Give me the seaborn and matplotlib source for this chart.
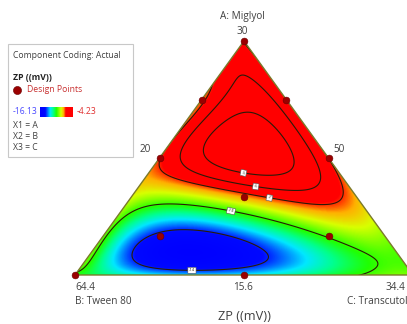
import numpy as np
import matplotlib
matplotlib.use("Agg")
import matplotlib.pyplot as plt
import seaborn as sns
import pandas as pd
from matplotlib.colors import LinearSegmentedColormap, Normalize
from matplotlib.patches import Polygon, Rectangle

# ---------------- data ----------------
# design points (A: Miglyol, B: Tween 80, C: Transcutol), coded fractions
comp_A = [1.0, 0.0, 0.0, 0.5, 0.5, 0.0, 0.75, 0.75, 1/3, 1/6, 1/6]
comp_B = [0.0, 1.0, 0.0, 0.5, 0.0, 0.5, 0.25, 0.0, 1/3, 2/3, 1/6]
comp_C = [0.0, 0.0, 1.0, 0.0, 0.5, 0.5, 0.0, 0.25, 1/3, 1/6, 2/3]
zp_mv = [-7.0, -10.3, -9.3, -7.3, -6.9, -12.6, -7.0, -7.0, -6.95, -15.3, -10.0]

# response readings taken along the drawn contours / colour field
read_A = [0.748, 0.607, 0.500, 0.457, 0.534, 0.650,                 # -5 loop
          0.846, 0.675, 0.534, 0.423, 0.376, 0.406, 0.513, 0.705,   # -6 loop
          0.470, 0.372, 0.338, 0.303, 0.282, 0.295, 0.385,          # -7 line
          0.158, 0.201, 0.261, 0.295, 0.303, 0.295, 0.274, 0.239,
          0.205, 0.098, 0.038, 0.0,                                 # -10 line
          0.094, 0.158, 0.197, 0.209, 0.188, 0.141, 0.090, 0.047,
          0.034, 0.043,                                             # -14 loop
          0.107, 0.598,                                             # min, max
          0.0, 0.0, 0.0, 0.0, 0.0, 0.0, 0.0, 0.0,                   # B-C edge
          0.22, 0.299, 0.385, 0.65, 0.85,                           # A-B edge
          0.107, 0.235, 0.30, 0.363, 0.65, 0.85,                    # A-C edge
          0.940, 0.043, 0.107, 0.085, 0.073, 0.256, 0.107]          # interior
read_B = [0.117, 0.276, 0.315, 0.260, 0.127, 0.074,
          0.068, 0.284, 0.384, 0.404, 0.274, 0.146, 0.048, 0.017,
          0.499, 0.503, 0.432, 0.278, 0.193, 0.098, 0.023,
          0.841, 0.781, 0.707, 0.630, 0.553, 0.468, 0.401, 0.304,
          0.232, 0.123, 0.108, 0.118,
          0.784, 0.714, 0.635, 0.541, 0.433, 0.367, 0.354, 0.444,
          0.569, 0.697,
          0.592, 0.189,
          0.896, 0.837, 0.778, 0.704, 0.630, 0.542, 0.438, 0.364,
          0.78, 0.701, 0.615, 0.35, 0.15,
          0.0, 0.0, 0.0, 0.0, 0.0, 0.0,
          0.030, 0.919, 0.813, 0.292, 0.854, 0.532, 0.281]
read_zp = [-5.0] * 6 + [-6.0] * 8 + [-7.0] * 7 + [-10.0] * 12 + [-14.0] * 10 + \
          [-16.13, -4.4] + \
          [-11.5, -12.2, -12.5, -12.6, -12.7, -12.6, -12.1, -11.3] + \
          [-9.7, -8.7, -7.8, -7.05, -7.0] + \
          [-9.8, -8.6, -8.0, -7.3, -6.95, -7.0] + \
          [-6.5, -10.8, -12.3, -12.5, -12.0, -11.5, -12.3]

zp_range = [-16.13, -4.23]
contour_levels = [-14, -10, -7, -6, -5]
vertex_names = ["A: Miglyol", "B: Tween 80", "C: Transcutol"]
vertex_ticks = ["30", "64.4", "34.4"]
mid_ticks = ["20", "50", "15.6"]
legend_lines = ["Component Coding: Actual", "ZP ((mV))", "Design Points",
                "X1 = A", "X2 = B", "X3 = C"]
title = "ZP ((mV))"

# ---------------- layout ----------------
W, H = 407, 324
TOP = np.array([244.0, 41.0])
BL = np.array([75.0, 275.0])
BR = np.array([413.0, 275.0])

def to_xy(a, b, c):
    a, b, c = np.asarray(a), np.asarray(b), np.asarray(c)
    return (a * TOP[0] + b * BL[0] + c * BR[0],
            a * TOP[1] + b * BL[1] + c * BR[1])

DEG = 6
EXPS = [(i, j, DEG - i - j) for i in range(DEG + 1) for j in range(DEG + 1 - i)]

def terms(a, b, c):
    return np.stack([a**i * b**j * c**k for i, j, k in EXPS], axis=-1)

fa = np.array(comp_A + read_A)
fb = np.array(comp_B + read_B)
fc = 1.0 - fa - fb
fv = np.array(zp_mv + read_zp)
Xd = terms(fa, fb, fc)
lam = 1e-6
coef = np.linalg.solve(Xd.T @ Xd + lam * np.eye(Xd.shape[1]), Xd.T @ fv)

sns.set_style("white")
plt.rcParams['font.family'] = ['Open Sans', 'DejaVu Sans']

fig = plt.figure(figsize=(W/100, H/100), dpi=100)
ax = fig.add_axes([0, 0, 1, 1])

xs = np.linspace(60, 420, 500)
ys = np.linspace(35, 280, 400)
X, Y = np.meshgrid(xs, ys)
A = (BL[1] - Y) / (BL[1] - TOP[1])
C = (X - A*TOP[0] - (1-A)*BL[0]) / (BR[0] - BL[0])
B = 1 - A - C
Z = terms(A, B, C) @ coef
tol = 0.01
inside = (A >= -tol) & (B >= -tol) & (C >= -tol)
Zm = np.ma.masked_where(~inside, Z)

cmap = LinearSegmentedColormap.from_list('dx', [
    (0.0, '#0000ff'), (0.16, '#0008ff'), (0.24, '#0080ff'), (0.31, '#00e8ff'),
    (0.40, '#00ff90'), (0.50, '#20ff00'), (0.64, '#d8ff00'), (0.72, '#ffb000'),
    (0.76, '#ff4000'), (0.78, '#ff0000'), (1.0, '#ff0000')])
norm = Normalize(vmin=zp_range[0], vmax=zp_range[1])

clip = Polygon([TOP, BL, BR], closed=True, transform=ax.transData)
im = ax.imshow(Zm, cmap=cmap, norm=norm, extent=(xs[0], xs[-1], ys[-1], ys[0]),
               origin='upper', interpolation='bilinear', zorder=1)
im.set_clip_path(clip)

cs = ax.contour(X, Y, Zm, levels=contour_levels, colors='#2a1a08',
                linewidths=0.8, linestyles='solid', zorder=2)
cs.set_clip_path(clip)
lbl_pos = [(192, 265), (231, 211), (268, 204), (256, 185), (246, 162)]
texts = ax.clabel(cs, fmt='%g', fontsize=3, manual=lbl_pos, inline=False)
for t in texts:
    t.set_bbox(dict(boxstyle='square,pad=0.25', fc='white', ec='#555555', lw=0.4))
    t.set_zorder(5)
tri = Polygon([TOP, BL, BR], closed=True, transform=ax.transData,
              fill=False, ec='#7a7a2a', lw=1.0, zorder=4)
ax.add_patch(tri)

# design points
dx_, dy_ = to_xy(comp_A, comp_B, comp_C)
df = pd.DataFrame({'x': dx_, 'y': dy_, 'zp': zp_mv})
sns.scatterplot(data=df, x='x', y='y', color='#9b0000', s=24, edgecolor='#6a0000',
                linewidth=0.4, ax=ax, zorder=6, legend=False)

tc = '#404040'
fs = 7.2
ax.text(TOP[0]-2, 17, vertex_names[0], ha='center', va='center', fontsize=fs, color=tc)
ax.text(TOP[0]-2, 31, vertex_ticks[0], ha='center', va='center', fontsize=fs, color=tc)
ax.text(BL[0], 288, vertex_ticks[1], ha='left', va='center', fontsize=fs, color=tc)
ax.text(BL[0], 302, vertex_names[1], ha='left', va='center', fontsize=fs, color=tc)
ax.text(386, 288, vertex_ticks[2], ha='left', va='center', fontsize=fs, color=tc)
ax.text(347, 302, vertex_names[2], ha='left', va='center', fontsize=fs, color=tc)
ax.text(151, 149, mid_ticks[0], ha='right', va='center', fontsize=fs, color=tc)
ax.text(333, 149, mid_ticks[1], ha='left', va='center', fontsize=fs, color=tc)
ax.text(243, 288, mid_ticks[2], ha='center', va='center', fontsize=fs, color=tc)
ax.text(245, 317, title, ha='center', va='center', fontsize=9.2, color=tc)

# legend box
ax.add_patch(Rectangle((8, 44), 125, 113, fill=True, fc='white', ec='#c8c8c8', lw=0.8, zorder=3))
lfs = 6.2
ax.text(13, 55, legend_lines[0], ha='left', va='center', fontsize=lfs, color=tc, zorder=7)
ax.text(13, 78, legend_lines[1], ha='left', va='center', fontsize=lfs, color='#222222',
        fontweight='bold', zorder=7)
ax.scatter([17], [90], s=34, color='#9b0000', edgecolor='#6a0000', lw=0.4, zorder=7)
ax.text(27, 90, legend_lines[2], ha='left', va='center', fontsize=lfs, color='#c83030', zorder=7)
grad = np.linspace(0, 1, 200).reshape(1, -1)
ax.imshow(grad, cmap=cmap, extent=(40, 73, 117, 107), aspect='auto', zorder=7)
ax.text(13, 112, f"{zp_range[0]:.2f}", ha='left', va='center', fontsize=lfs, color='#4a4aff', zorder=7)
ax.text(77, 112, f"{zp_range[1]:.2f}", ha='left', va='center', fontsize=lfs, color='#e03030', zorder=7)
for i, s in enumerate(legend_lines[3:]):
    ax.text(13, 125 + 11.5*i, s, ha='left', va='center', fontsize=lfs, color=tc, zorder=7)

ax.set_xlim(0, W)
ax.set_ylim(H, 0)
ax.axis('off')
fig.savefig('out.png', dpi=100)
